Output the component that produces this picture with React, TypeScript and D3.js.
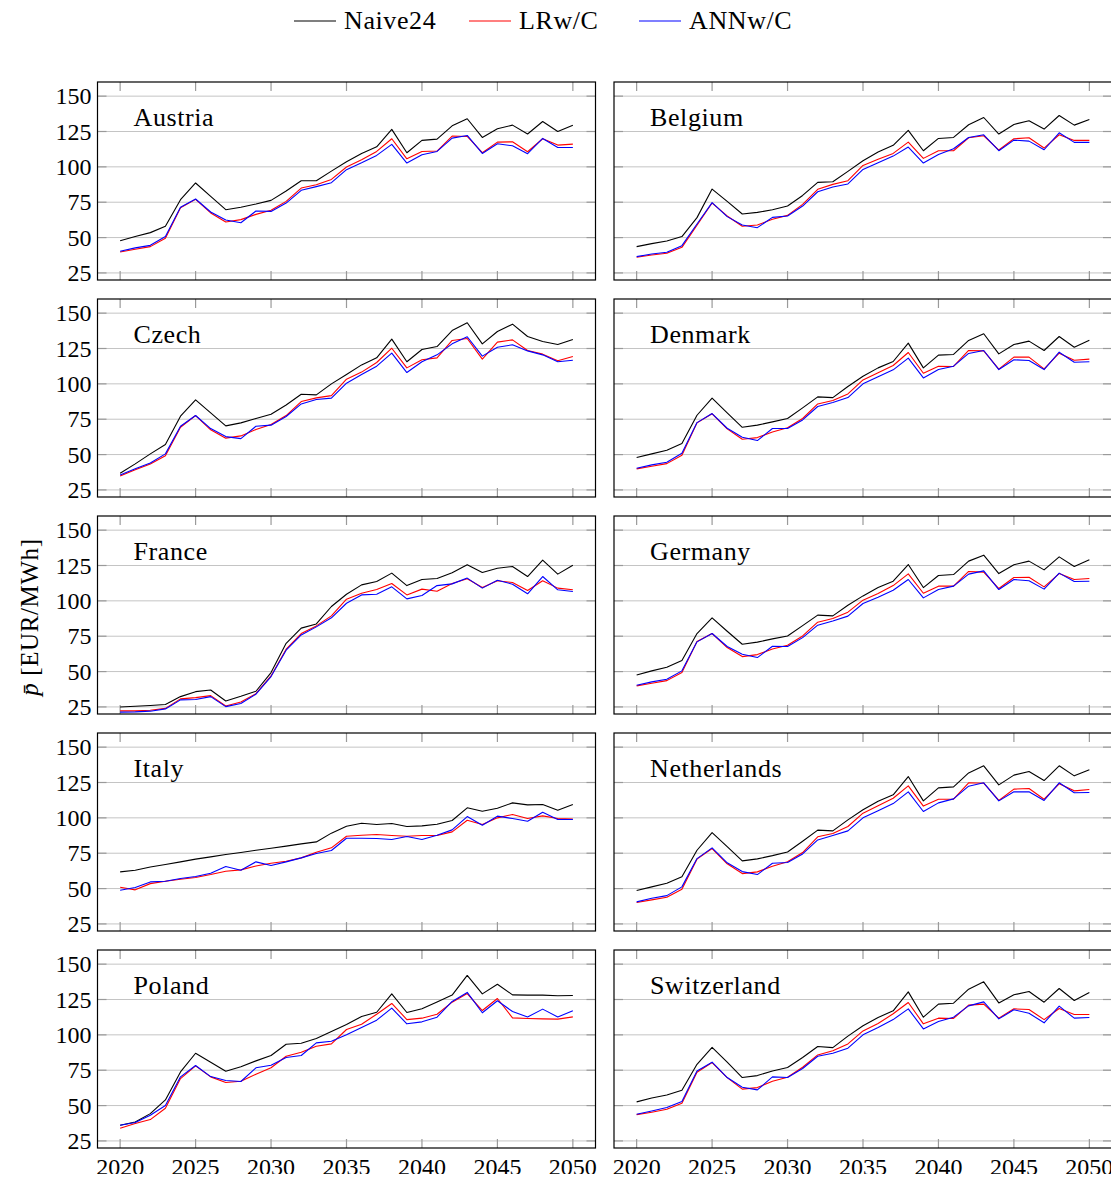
import * as d3 from 'd3';

// years on the x axis
const years = d3.range(2020, 2051);
const yTicks = [25, 50, 75, 100, 125, 150];
const xTicks = [2020, 2025, 2030, 2035, 2040, 2045, 2050];
const countries = ['Austria', 'Belgium', 'Czech', 'Denmark', 'France', 'Germany', 'Italy', 'Netherlands', 'Poland', 'Switzerland'];

const austriaNaive = [47.8, 50.7, 53.5, 58, 76.8, 88.6, 79.1, 69.7, 71.4, 73.7, 76.3, 82.9, 90.2, 90.2, 97, 103.6, 109.5, 114.2, 126.5, 110, 118.7, 119.6, 129, 134, 120.8, 126.9, 129.5, 123.2, 132.1, 125, 129.5];
const austriaLR = [39.8, 41.7, 43.6, 49.5, 71.1, 77, 67.4, 61, 62.7, 66.4, 69.3, 75.6, 85, 87.4, 91.1, 99.9, 105, 110.9, 119.9, 105.7, 110.9, 111.2, 121.8, 121.5, 110, 117.5, 117.7, 110.7, 119.9, 115.4, 116.1];
const austriaANN = [40.3, 42.7, 44.5, 50.7, 71.4, 77.3, 68.1, 62.4, 60.5, 68.8, 68.5, 74.4, 83.4, 86, 88.8, 98, 102.9, 108.1, 115.9, 102.7, 108.6, 110.9, 120.3, 122.2, 109.5, 116.3, 114.9, 109.3, 120.1, 113.7, 113.7];

const belgiumNaive = [43.6, 45.7, 47.6, 50.7, 64.1, 84.3, 75.6, 66.7, 67.8, 69.7, 72.3, 79.8, 89, 89.5, 96.8, 104.3, 110.5, 115.2, 125.8, 111.4, 120.1, 120.8, 129.8, 134.9, 123.2, 130, 132.6, 126.7, 136.3, 129.5, 133.5];
const belgiumLR = [36.1, 37.7, 38.9, 43.1, 58.7, 74.4, 65.3, 58, 58.9, 62.9, 65.7, 73.5, 84.1, 87.6, 90.2, 101, 105.3, 109.5, 117.5, 106, 111.4, 111.4, 120.6, 122, 111.9, 119.9, 120.6, 113.3, 122.7, 118.7, 118.7];
const belgiumANN = [36.5, 38.4, 39.6, 44.3, 59.6, 74.7, 64.8, 58.9, 57, 64.3, 65.3, 72.3, 82.4, 85.7, 87.9, 98.2, 102.9, 107.6, 114, 102.7, 108.8, 112.8, 120.8, 122.7, 111.4, 118.9, 118.2, 112.1, 124.1, 117.3, 117.3];

const czechNaive = [36.8, 43.4, 50.5, 57.1, 77.1, 88.7, 79.5, 70.3, 72.4, 75.5, 78.5, 85.1, 92.7, 92.2, 100, 106.6, 113.4, 118.4, 131.6, 115.6, 124.3, 126.4, 137.7, 143.2, 128.3, 137, 142.2, 133.5, 130, 127.8, 131.4];
const czechLR = [34.9, 39.2, 43.4, 49.1, 69.3, 77.6, 67.5, 61.6, 63.2, 67.7, 71.2, 77.6, 87.5, 90.1, 91.7, 103.3, 108.3, 115.1, 125.2, 111.3, 117, 118.4, 130.7, 132.1, 117.5, 129.5, 131.1, 123.6, 121, 116.3, 119.3];
const czechANN = [35.6, 39.9, 44.1, 50.5, 70, 77.6, 68.4, 62.7, 61.3, 70, 70.8, 76.9, 85.8, 88.9, 89.9, 100.5, 106.6, 112.5, 121.7, 108, 115.6, 120.5, 128.3, 133.3, 119.6, 125.9, 127.6, 123.3, 120.5, 115.6, 116.7];

const denmarkNaive = [47.9, 50.5, 53.1, 57.8, 77.8, 89.9, 79.5, 69.3, 70.8, 73.1, 75.5, 83, 90.8, 90.3, 98.1, 105.4, 111.3, 115.8, 128.8, 111.3, 120.3, 120.8, 130.7, 135.4, 121.2, 127.8, 130.2, 123.6, 133.5, 125.9, 130.9];
const denmarkLR = [39.9, 41.7, 43.6, 49.5, 72.4, 78.8, 68.2, 60.8, 62, 66, 68.9, 75.5, 85.8, 88.2, 92.9, 102.8, 107.8, 113, 122.2, 107.5, 112.5, 112.3, 123.6, 123.3, 110.4, 118.9, 118.9, 110.6, 121.7, 116.7, 117.5];
const denmarkANN = [40.3, 42.7, 44.6, 50.9, 72.6, 79, 68.6, 62.3, 59.9, 68.4, 68.4, 74.5, 84, 86.8, 90.3, 100, 105, 109.9, 118.2, 104.2, 110.1, 112.5, 121.5, 123.6, 110.1, 117, 116.5, 110.1, 122.4, 115.3, 115.6];

const franceNaive = [25, 25.5, 26, 26.7, 32.3, 35.8, 37, 29.2, 32.5, 36.1, 49.3, 70, 80.7, 83.7, 96, 104.7, 111.3, 113.7, 119.6, 110.8, 115.1, 115.8, 119.8, 125.5, 120.1, 123.1, 124.3, 117.2, 128.8, 118.9, 125.2];
const franceLR = [22.2, 22.2, 22.6, 24, 30.7, 31.6, 33, 25.7, 28.5, 34.4, 46.9, 65.8, 76.9, 82.3, 89.4, 101.2, 105.4, 108, 112.3, 104.2, 108.3, 106.8, 112.3, 115.6, 109.4, 114.2, 113, 107.3, 114.2, 109, 107.8];
const franceANN = [21.3, 21.5, 22, 23.6, 30, 30.2, 32.3, 25.2, 27.4, 34, 46.5, 65.1, 75.9, 81.6, 88, 98.3, 104.2, 104.7, 109.9, 101.4, 103.8, 110.8, 112, 116.1, 109, 114.6, 111.8, 105, 117.2, 107.8, 106.6];

const germanyNaive = [47.6, 50.5, 53.1, 57.8, 76.9, 88, 78.5, 69.3, 70.8, 73.1, 75.2, 82.5, 89.9, 89.4, 96.9, 103.5, 109.4, 113.9, 125.7, 109.4, 117.9, 118.6, 128.1, 132.3, 119.3, 125.5, 128.1, 121.9, 131.1, 124.3, 129];
const germanyLR = [39.9, 41.7, 43.6, 49.3, 71.2, 76.9, 67, 60.6, 62, 66, 68.6, 75.2, 84.9, 87.5, 92, 100.5, 105.2, 110.8, 119.1, 105.4, 110.4, 110.4, 120.8, 120.3, 108.7, 116.5, 116.7, 109.9, 119.3, 115.1, 115.8];
const germanyANN = [40.3, 42.7, 44.6, 50.5, 71, 76.9, 67.7, 62.3, 59.9, 67.9, 67.7, 74, 82.8, 85.8, 89.2, 98.1, 102.6, 107.5, 115.1, 102.1, 108, 110.4, 118.9, 121.2, 108, 115.1, 114.2, 108.3, 119.6, 113.7, 113.9];

const italyNaive = [61.8, 63, 65.3, 67, 68.9, 70.8, 72.4, 74.1, 75.5, 77.1, 78.5, 80, 81.6, 83, 89.2, 94.1, 96.2, 95.3, 96, 93.9, 94.3, 95.5, 98.1, 107.1, 104.7, 106.8, 110.6, 109.2, 109.4, 105.4, 109.4];
const italyLR = [50.9, 49.1, 53.5, 55.2, 56.6, 57.8, 59.9, 62.3, 63.2, 66, 67.9, 69.3, 71.7, 75.7, 78.8, 87, 87.7, 88.2, 87.5, 87, 87.5, 87.5, 90.1, 98.3, 95.3, 100, 102.4, 99.5, 101.4, 99.5, 99.1];
const italyANN = [48.8, 50.7, 54.7, 55.2, 57.1, 58.5, 60.8, 65.6, 63, 68.9, 66.3, 68.9, 71.7, 74.8, 76.9, 85.6, 85.6, 85.4, 84.7, 86.8, 84.7, 87.7, 91.5, 100.9, 94.8, 101.2, 99.5, 97.6, 104, 98.8, 98.8];

const netherlandsNaive = [48.6, 51.2, 53.8, 58.3, 77.1, 89.6, 79.7, 69.6, 71, 73.3, 75.9, 83.5, 91.3, 90.8, 98.6, 105.7, 111.8, 116.3, 129.2, 112, 121.2, 121.9, 131.8, 136.8, 123.3, 130.2, 132.8, 126.4, 136.8, 129.7, 134];
const netherlandsLR = [40.1, 42, 43.9, 49.5, 70.8, 78.3, 67.5, 60.6, 61.8, 65.8, 68.9, 75.5, 86.6, 88.9, 93.9, 103.3, 108.5, 113.9, 122.6, 108.3, 113.2, 113.2, 124.8, 124.5, 112.3, 120.3, 120.8, 113.2, 124.1, 119.1, 120];
const netherlandsANN = [40.6, 43.2, 45, 51.2, 71.2, 78.8, 68.2, 62, 59.9, 67.9, 68.4, 74.5, 84.4, 87.5, 90.8, 100, 105, 110.1, 118.4, 104.5, 110.6, 113.4, 122.4, 124.8, 112, 118.4, 118.4, 112.3, 124.8, 117.7, 117.9];

const polandNaive = [36.1, 38.4, 44.3, 54, 73.8, 87, 80.7, 74.3, 77.4, 81.6, 85.4, 93.4, 94.1, 97.4, 102.4, 107.3, 113, 116, 129, 115.8, 118.4, 123.3, 128.1, 142, 129, 135.8, 128.3, 128.1, 128.1, 127.6, 127.8];
const polandLR = [34, 37.3, 40.1, 48.1, 69.1, 78.1, 70.3, 66.3, 67.2, 72.2, 76.7, 84.9, 87.7, 92, 93.6, 103.8, 107.5, 114.6, 122.2, 110.8, 111.8, 114.6, 123.1, 129.2, 117.2, 125.7, 112, 111.6, 111.3, 111.1, 112.7];
const polandANN = [36.1, 38, 43.2, 50, 70.3, 78.3, 70.5, 67.7, 67, 76.7, 78.5, 84, 85.4, 94.3, 95.5, 100, 105.2, 110.4, 118.9, 107.8, 109.2, 112.5, 123.6, 130, 115.6, 124.1, 116.5, 112.7, 118.2, 112.7, 117];

const switzerlandNaive = [52.6, 55.4, 57.5, 60.8, 79.2, 91.2, 80.7, 69.8, 71.2, 74.5, 76.9, 84, 91.8, 91, 99.1, 106.4, 112.3, 117, 130.4, 112.5, 121.7, 122.4, 132.3, 137.5, 122.6, 128.3, 130.7, 123.1, 132.8, 124.3, 130];
const switzerlandLR = [43.6, 45.3, 47.4, 51.7, 73.6, 80.4, 69.8, 61.6, 62.7, 67.2, 70, 77.1, 85.8, 88.7, 93.6, 102.8, 108, 114.9, 122.9, 107.8, 111.8, 111.6, 121, 121.7, 111.8, 118.4, 117.9, 110.8, 118.6, 114.4, 114.4];
const switzerlandANN = [43.9, 46.2, 48.6, 52.8, 74.5, 80.7, 69.8, 63, 61.1, 70.3, 69.8, 76.2, 84.9, 87, 90.6, 100, 105.2, 110.8, 118.4, 104.2, 109.4, 112.5, 120.5, 123.3, 111.3, 117.7, 115.3, 108.5, 120.3, 111.8, 112.3];

const seriesByCountry: number[][][] = [
  [austriaNaive, austriaLR, austriaANN],
  [belgiumNaive, belgiumLR, belgiumANN],
  [czechNaive, czechLR, czechANN],
  [denmarkNaive, denmarkLR, denmarkANN],
  [franceNaive, franceLR, franceANN],
  [germanyNaive, germanyLR, germanyANN],
  [italyNaive, italyLR, italyANN],
  [netherlandsNaive, netherlandsLR, netherlandsANN],
  [polandNaive, polandLR, polandANN],
  [switzerlandNaive, switzerlandLR, switzerlandANN],
];

const seriesNames = ['Naive24', 'LRw/C', 'ANNw/C'];
const seriesColors = ['#000000', '#ff0000', '#0000ff'];

const FONT = "'Liberation Serif', 'DejaVu Serif', serif";
const textStyle = { fontFamily: FONT };
const labelStyle = { fontFamily: FONT, letterSpacing: '0.6px' };
const W = 498;
const H = 198;
const colX = [97.5, 614];
const rowY0 = 82;
const rowStep = 217;

const x = d3.scaleLinear().domain([2018.5, 2051.5]).range([0, W]);
const y = d3.scaleLinear().domain([20, 160]).range([H, 0]);
const line = d3.line<number>()
  .x((_, i) => x(years[i]))
  .y((d) => y(d));

function Panel({ idx }: { idx: number }) {
  const col = idx % 2;
  const row = Math.floor(idx / 2);
  const tx = colX[col];
  const ty = rowY0 + row * rowStep;
  const tick = 9;
  return (
    <g transform={`translate(${tx},${ty})`}>
      {/* horizontal grid */}
      {yTicks.map((t) => (
        <line key={`g${t}`} x1={0} x2={W} y1={y(t)} y2={y(t)} stroke="#c4c4c4" strokeWidth={1} />
      ))}
      {/* ticks, mirrored on all sides */}
      {yTicks.map((t) => (
        <g key={`yt${t}`} stroke="#9a9a9a" strokeWidth={1.2}>
          <line x1={0} x2={tick} y1={y(t)} y2={y(t)} />
          <line x1={W - tick} x2={W} y1={y(t)} y2={y(t)} />
        </g>
      ))}
      {xTicks.map((t) => (
        <g key={`xt${t}`} stroke="#9a9a9a" strokeWidth={1.2}>
          <line x1={x(t)} x2={x(t)} y1={0} y2={tick} />
          <line x1={x(t)} x2={x(t)} y1={H - tick} y2={H} />
        </g>
      ))}
      {seriesByCountry[idx].map((s, i) => (
        <path key={i} d={line(s) ?? ''} fill="none" stroke={seriesColors[i]} strokeWidth={1.1} strokeLinejoin="round" />
      ))}
      <rect x={0} y={0} width={W} height={H} fill="none" stroke="#000" strokeWidth={1.2} />
      <text x={36} y={44} style={labelStyle} fontSize={26} fill="#000">{countries[idx]}</text>
      {col === 0 && yTicks.map((t) => (
        <text key={`yl${t}`} x={-6} y={y(t)} dy="0.34em" textAnchor="end" style={textStyle} fontSize={24}>{t}</text>
      ))}
      {row === 4 && xTicks.map((t) => (
        <text key={`xl${t}`} x={x(t)} y={H + 27} textAnchor="middle" style={textStyle} fontSize={24}>{t}</text>
      ))}
    </g>
  );
}

export default function App() {
  const legendX = [294, 469, 639];
  return (
    <svg width={1119} height={1182} style={{ display: 'block', margin: -8 }}>
      <rect width={1119} height={1182} fill="#fff" />
      {seriesNames.map((n, i) => (
        <g key={n}>
          <line x1={legendX[i]} x2={legendX[i] + 42} y1={21} y2={21} stroke={seriesColors[i]} strokeWidth={1.2} />
          <text x={legendX[i] + 50} y={29} style={labelStyle} fontSize={26}>{n}</text>
        </g>
      ))}
      {countries.map((_, i) => (
        <Panel key={i} idx={i} />
      ))}
      <text transform="translate(38,617) rotate(-90)" textAnchor="middle" style={labelStyle} fontSize={25}>
        <tspan fontStyle="italic">p̄</tspan> [EUR/MWh]
      </text>
    </svg>
  );
}
